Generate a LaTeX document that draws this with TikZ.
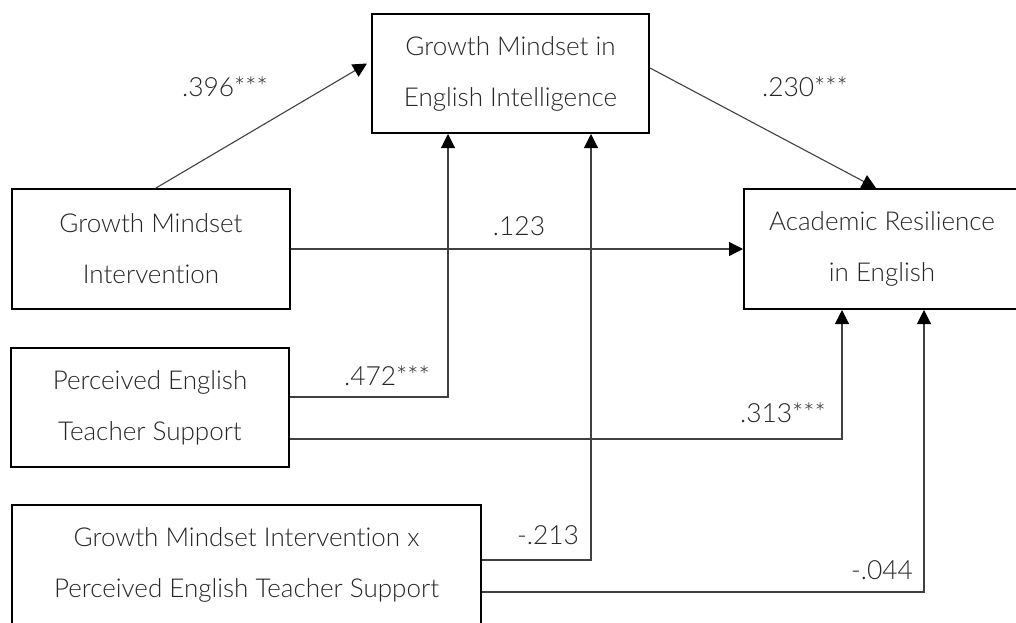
\documentclass[tikz,border=0pt]{standalone}
\usepackage{fontspec}
\setmainfont{Lato}[UprightFont=* Light, Ligatures=NoCommon]
\usepackage{tikz}
\usetikzlibrary{arrows.meta}

\begin{document}
\begin{tikzpicture}[x=0.5pt, y=-0.5pt,
	box/.style={draw, line width=1pt, align=center, text=black!85, font=\fontsize{13}{25.5}\selectfont},
	path/.style={draw=black!75, line width=0.55pt, -{Triangle[length=7pt, width=7pt, color=black]}},
	coef/.style={text=black!85, font=\fontsize{13.2}{15}\selectfont, inner sep=0pt}]
	\useasboundingbox (0,0) rectangle (1016,622);
	% variables
	\node[box, minimum width=138.5pt, minimum height=59.5pt] (gmei) at (510.5, 73.5) {Growth Mindset in\\English Intelligence};
	\node[box, minimum width=139pt, minimum height=60pt] (gmi) at (151, 249) {Growth Mindset\\Intervention};
	\node[box, minimum width=138pt, minimum height=60pt] (are) at (882, 249) {Academic Resilience\\in English};
	\node[box, minimum width=139pt, minimum height=59.5pt] (pets) at (150, 407.5) {Perceived English\\Teacher Support};
	\node[box, minimum width=234.5pt, minimum height=60pt] (int) at (246.5, 565) {Growth Mindset Intervention x\\Perceived English Teacher Support};
	% paths
	\draw[path] ([xshift=2.5pt]gmi.north) to ([yshift=5pt, xshift=-2pt]gmei.west);
	\draw[path] ([yshift=2.75pt]gmei.east) to ([xshift=-3pt]are.north);
	\draw[path] (gmi.east) to (gmi.east -| are.west);
	\draw[path] ([yshift=5.25pt]pets.east) -| ([xshift=-31.25pt]gmei.south);
	\draw[path] ([yshift=-15.75pt]pets.east) -| ([xshift=-20pt]are.south);
	\draw[path] ([yshift=2.5pt]int.east) -| ([xshift=40.25pt]gmei.south);
	\draw[path] ([yshift=-13.5pt]int.east) -| ([xshift=21pt]are.south);
	% coefficients
	\node[coef] (c1) at (225, 87) {.396***};
	\node[coef] (c2) at (805, 87) {.230***};
	\node[coef] (c3) at (519, 226) {.123};
	\node[coef] (c4) at (387, 376) {.472***};
	\node[coef] (c5) at (783, 413) {.313***};
	\node[coef] (c6) at (548, 535) {-.213};
	\node[coef] (c7) at (882, 570) {-.044};
\end{tikzpicture}
\end{document}
